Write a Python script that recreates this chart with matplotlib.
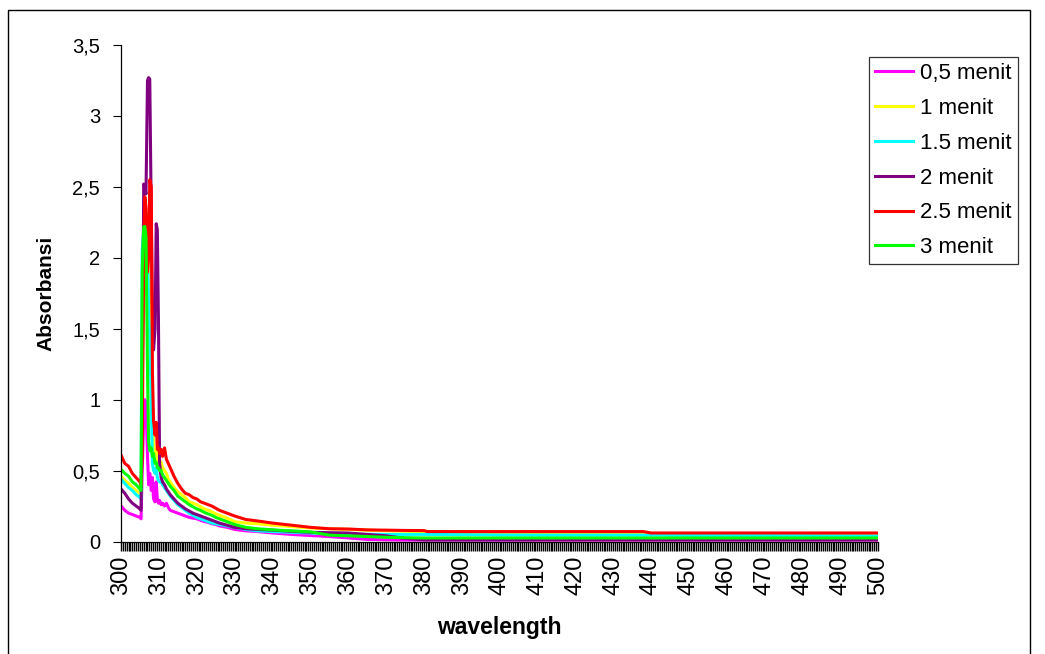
import numpy as np
import matplotlib
matplotlib.use("Agg")
import matplotlib.pyplot as plt
from matplotlib.patches import Rectangle
from matplotlib.ticker import FixedLocator, MultipleLocator, FuncFormatter

plt.rcParams["font.family"] = ["Liberation Sans", "DejaVu Sans"]

wavelength = [300, 301, 302, 303, 304, 305, 305.3, 305.6, 306, 306.3, 306.6, 307, 307.3, 307.6,
              308, 308.3, 308.6, 309, 309.3, 309.6, 309.9, 310.2, 310.6, 311, 311.5, 312, 312.5,
              313, 314, 315, 316, 317, 318, 319, 320, 321, 322, 323, 324, 325, 326, 328, 330, 333,
              336, 340, 345, 350, 355, 360, 365, 370, 375, 380, 381, 390, 400, 410, 420, 425, 430,
              438, 440, 450, 460, 470, 480, 490, 500]

menit_05 = [0.25, 0.22, 0.20, 0.19, 0.18, 0.17, 0.16, 0.5, 0.85, 1.0, 0.95, 0.6, 0.4, 0.48,
            0.36, 0.45, 0.30, 0.28, 0.42, 0.30, 0.27, 0.29, 0.26, 0.27, 0.25, 0.27, 0.24,
            0.22, 0.21, 0.20, 0.19, 0.18, 0.17, 0.165, 0.16, 0.15, 0.14, 0.135, 0.125, 0.12, 0.11, 0.10, 0.085, 0.075,
            0.07, 0.06, 0.05, 0.042, 0.035, 0.025, 0.015, 0.012, 0.01, 0.01, 0.01, 0.01, 0.01, 0.01, 0.01, 0.01, 0.01,
            0.01, 0.01, 0.01, 0.01, 0.01, 0.01, 0.01, 0.01]

menit_1 = [0.46, 0.43, 0.41, 0.38, 0.36, 0.34, 0.33, 1.2, 1.9, 2.2, 2.28, 2.31, 2.0, 1.7,
           1.3, 0.85, 0.7, 0.62, 0.65, 0.58, 0.57, 0.55, 0.56, 0.52, 0.50, 0.48, 0.44,
           0.42, 0.38, 0.35, 0.33, 0.31, 0.28, 0.27, 0.26, 0.245, 0.23, 0.22, 0.21, 0.195, 0.185, 0.165, 0.14, 0.13,
           0.125, 0.115, 0.105, 0.095, 0.09, 0.085, 0.08, 0.075, 0.072, 0.065, 0.062, 0.062, 0.06, 0.06, 0.058, 0.05, 0.05,
           0.05, 0.05, 0.05, 0.05, 0.05, 0.05, 0.05, 0.05]

menit_15 = [0.44, 0.41, 0.38, 0.36, 0.33, 0.31, 0.30, 2.05, 2.2, 2.25, 2.27, 2.1, 1.6, 1.45,
            1.0, 0.55, 0.50, 0.48, 0.52, 0.45, 0.43, 0.42, 0.42, 0.40, 0.38, 0.36, 0.34,
            0.32, 0.29, 0.26, 0.24, 0.22, 0.20, 0.185, 0.17, 0.16, 0.15, 0.14, 0.13, 0.125, 0.12, 0.11, 0.10, 0.085,
            0.075, 0.07, 0.065, 0.06, 0.055, 0.05, 0.05, 0.05, 0.05, 0.05, 0.05, 0.048, 0.046, 0.045, 0.045, 0.045, 0.045,
            0.045, 0.045, 0.043, 0.042, 0.042, 0.041, 0.04, 0.04]

menit_2 = [0.37, 0.34, 0.30, 0.27, 0.25, 0.23, 0.22, 0.9, 2.52, 2.5, 2.45, 3.25, 3.27, 3.26,
           2.3, 1.6, 1.35, 1.5, 2.24, 2.2, 1.54, 0.55, 0.45, 0.42, 0.40, 0.37, 0.35,
           0.33, 0.30, 0.27, 0.25, 0.23, 0.215, 0.20, 0.19, 0.18, 0.17, 0.16, 0.15, 0.14, 0.13, 0.115, 0.10, 0.09,
           0.085, 0.08, 0.072, 0.065, 0.062, 0.06, 0.05, 0.04, 0.022, 0.012, 0.012, 0.012, 0.012, 0.012, 0.012, 0.012, 0.012,
           0.012, 0.012, 0.012, 0.012, 0.012, 0.012, 0.012, 0.012]

menit_25 = [0.61, 0.55, 0.53, 0.48, 0.45, 0.42, 0.40, 0.6, 2.1, 2.43, 2.35, 1.9, 2.0, 2.55,
            2.5, 1.2, 0.85, 0.75, 0.84, 0.65, 0.66, 0.62, 0.65, 0.60, 0.66, 0.58, 0.55,
            0.52, 0.46, 0.41, 0.37, 0.34, 0.33, 0.31, 0.30, 0.28, 0.27, 0.26, 0.25, 0.235, 0.22, 0.20, 0.18, 0.155,
            0.145, 0.13, 0.115, 0.10, 0.09, 0.088, 0.082, 0.08, 0.078, 0.077, 0.07, 0.07, 0.07, 0.07, 0.07, 0.07, 0.07,
            0.07, 0.06, 0.06, 0.06, 0.06, 0.06, 0.06, 0.06]

menit_3 = [0.51, 0.48, 0.46, 0.42, 0.40, 0.37, 0.36, 1.9, 2.22, 2.22, 2.15, 1.2, 0.7, 0.64,
           0.66, 0.60, 0.62, 0.55, 0.56, 0.52, 0.52, 0.50, 0.50, 0.47, 0.45, 0.43, 0.41,
           0.39, 0.36, 0.32, 0.30, 0.28, 0.26, 0.245, 0.23, 0.22, 0.205, 0.195, 0.185, 0.17, 0.16, 0.14, 0.12, 0.10,
           0.09, 0.082, 0.075, 0.068, 0.045, 0.04, 0.035, 0.03, 0.027, 0.025, 0.025, 0.025, 0.025, 0.025, 0.025, 0.025, 0.025,
           0.025, 0.025, 0.025, 0.025, 0.025, 0.025, 0.025, 0.025]

labels = ["0,5 menit", "1 menit", "1.5 menit", "2 menit", "2.5 menit", "3 menit"]
colors = ["#FF00FF", "#FFFF00", "#00FFFF", "#800080", "#FF0000", "#00FF00"]
series = [menit_05, menit_1, menit_15, menit_2, menit_25, menit_3]

fig = plt.figure(figsize=(10.45, 6.54), dpi=100)
ax = fig.add_axes([121 / 1045, 1 - 541.5 / 654, (878 - 121) / 1045, (541.5 - 45) / 654])

for vals, lab, col in zip(series, labels, colors):
    ax.plot(wavelength, vals, color=col, lw=2.2, label=lab)

ax.set_xlim(300, 500)
ax.set_ylim(0, 3.5)
ax.spines["top"].set_visible(False)
ax.spines["right"].set_visible(False)
ax.spines["left"].set_linewidth(0.9)
ax.spines["bottom"].set_linewidth(0.9)

# category ticks: one per data step, makes the dense black band
ax.xaxis.set_major_locator(MultipleLocator(10))
ax.xaxis.set_minor_locator(MultipleLocator(0.5))
ax.tick_params(axis="x", which="both", length=6.5, width=1.0, direction="out")
ax.tick_params(axis="x", which="major", labelsize=17, pad=3.5, labelrotation=90)
ax.yaxis.set_major_locator(FixedLocator(np.arange(0, 3.51, 0.5)))
ax.yaxis.set_major_formatter(FuncFormatter(lambda v, p: ("%g" % v).replace(".", ",")))
ax.tick_params(axis="y", length=6, width=0.8, labelsize=14.5, pad=9)

ax.set_ylabel("Absorbansi", fontsize=15, fontweight="bold", labelpad=12)
ax.set_xlabel("wavelength", fontsize=16.5, fontweight="bold", labelpad=15)

leg = ax.legend(loc="upper left", bbox_to_anchor=(869 / 1045, 1 - 57 / 654),
                bbox_transform=fig.transFigure, fontsize=16, frameon=True, fancybox=False,
                handlelength=1.7, handletextpad=0.3, labelspacing=0.62, borderpad=0.28,
                borderaxespad=0)
leg.get_frame().set_edgecolor("black")
leg.get_frame().set_linewidth(0.9)

fig.patches.append(Rectangle((8 / 1045, -0.05), (1030 - 8) / 1045, 1.05 - 10 / 654,
                             transform=fig.transFigure, fill=False, edgecolor="black", lw=1))

fig.savefig("out.png", dpi=100)
